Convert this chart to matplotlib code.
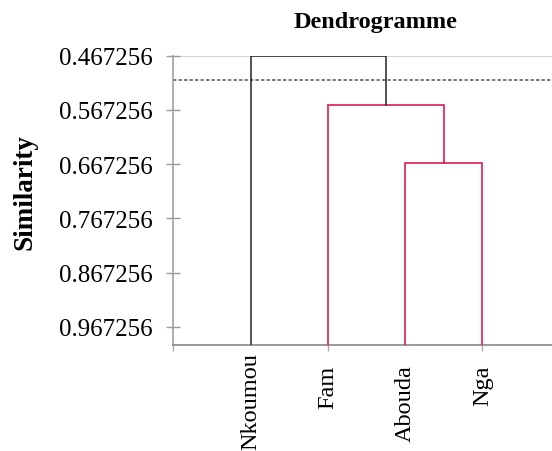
#!/usr/bin/env python3
"""Dendrogramme of four places, cut line and similarity scale."""
import matplotlib

matplotlib.use("Agg")
import matplotlib.pyplot as plt

leaves = ["Nkoumou", "Fam", "Abouda", "Nga"]
# merges as (left child, right child, height); ids >= 4 are earlier merges
merges = [(2, 3, 0.6645), (1, 4, 0.5576), (0, 5, 0.467256)]
merge_colors = ["#dd1c50", "#dd1c50", "#333333"]
cut_level = 0.5115
y_ticks = [0.467256, 0.567256, 0.667256, 0.767256, 0.867256, 0.967256]
y_bottom = 1.0

plt.rcParams["font.family"] = ["Liberation Serif", "DejaVu Serif"]

fig = plt.figure(figsize=(5.52, 4.52), dpi=100)
ax = fig.add_axes([0.314, 0.2352, 0.686, 0.6394])

# leaf x positions 1..n, then the centre/height of each merged cluster
pos = {i: float(i + 1) for i in range(len(leaves))}
height = {i: y_bottom for i in range(len(leaves))}
for k, (a, b, h) in enumerate(merges):
    xa, xb = pos[a], pos[b]
    ax.plot([xa, xa, xb, xb], [height[a], h, h, height[b]],
            color=merge_colors[k], lw=1.2, solid_joinstyle="miter", zorder=3)
    pos[len(leaves) + k] = (xa + xb) / 2
    height[len(leaves) + k] = h

ax.axhline(y_ticks[0], color="#cccccc", lw=1.2, zorder=1)
ax.axhline(cut_level, color="#555555", lw=1.1, dashes=(2.2, 1.4), zorder=2)

ax.set_xlim(0, 4.9)
ax.set_ylim(y_bottom, y_ticks[0])
ax.set_yticks(y_ticks)
ax.set_yticklabels([f"{v:.6f}" for v in y_ticks], fontsize=18)
ax.set_xticks([0, 2, 4])
ax.set_xticklabels([])
ax.tick_params(axis="y", direction="inout", length=10, width=1, color="#999999", pad=10)
ax.tick_params(axis="x", direction="out", length=4.5, width=1, color="#aaaaaa")

for side in ("top", "right"):
    ax.spines[side].set_visible(False)
ax.spines["left"].set_color("#a0a0a0")
ax.spines["bottom"].set_color("#888888")
ax.spines["left"].set_linewidth(1.2)
ax.spines["bottom"].set_linewidth(1.2)

label_drop = [-0.027, -0.068, -0.068, -0.068]
for i, name in enumerate(leaves):
    ax.text(pos[i], label_drop[i], name, transform=ax.get_xaxis_transform(),
            rotation=90, ha="center", va="top", fontsize=17.5)

fig.text(0.681, 0.937, "Dendrogramme", ha="center", va="baseline",
         fontsize=17.5, fontweight="bold")
fig.text(0.045, 0.576, "Similarity", rotation=90, ha="center", va="center",
         fontsize=19.5, fontweight="bold")

fig.savefig("out.png", dpi=100)
